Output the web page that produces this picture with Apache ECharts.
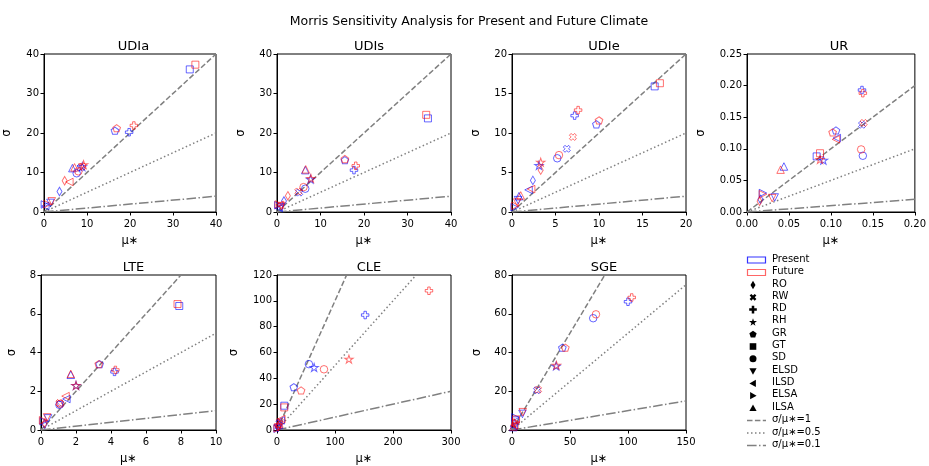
<!DOCTYPE html>
<html><head><meta charset="utf-8">
<script src="https://cdn.jsdelivr.net/npm/echarts@6/dist/echarts.min.js"></script>
<style>html,body{margin:0;padding:0;background:#fff}#c{width:929px;height:466px}</style>
</head><body><div id="c"></div>
<script>
// ---------- DATA ----------
const params = ['RO','RW','RD','RH','GR','GT','SD','ELSD','ILSD','ELSA','ILSA'];
const panelTitles = ['UDIa','UDIs','UDIe','UR','LTE','CLE','SGE'];
// each array: [mu*, sigma] per parameter, in the order of `params`
const udiaPresent = [[3.6,5.2],[8.5,11.2],[19.8,20.2],[8.9,11.5],[16.5,20.6],[33.9,36.1],[7.6,9.8],[1.5,2.3],[0.3,1.5],[0.2,1.9],[6.6,11.1]];
const udiaFuture  = [[4.8,7.9],[8.9,11.5],[20.9,21.9],[9.2,12.0],[16.9,21.2],[35.2,37.3],[8.0,10.3],[1.8,2.7],[5.9,7.6],[0.8,2.0],[7.1,11.3]];
const udisPresent = [[1.6,2.8],[5.1,4.9],[17.7,10.6],[7.7,8.3],[15.6,13.1],[34.7,23.7],[6.5,5.9],[0.9,1.2],[0.4,1.0],[0.3,1.7],[6.5,10.6]];
const udisFuture  = [[2.5,4.1],[4.9,5.2],[18.1,11.7],[7.8,8.5],[15.6,13.4],[34.3,24.6],[6.1,6.3],[1.0,1.5],[0.6,1.8],[0.4,1.9],[6.6,10.8]];
const udiePresent = [[2.4,4.0],[6.3,8.0],[7.2,12.2],[3.1,5.9],[9.7,11.1],[16.4,15.9],[5.2,6.8],[0.7,1.5],[1.9,2.8],[0.3,0.6],[0.8,2.0]];
const udieFuture  = [[3.3,5.3],[7.0,9.5],[7.6,12.9],[3.3,6.3],[10.0,11.6],[17.0,16.3],[5.4,7.2],[0.6,1.2],[2.2,2.9],[0.4,0.8],[1.0,2.1]];
const urPresent   = [[0.016,0.020],[0.137,0.138],[0.137,0.193],[0.091,0.082],[0.106,0.129],[0.083,0.088],[0.138,0.089],[0.033,0.023],[0.107,0.117],[0.019,0.030],[0.044,0.072]];
const urFuture    = [[0.015,0.017],[0.139,0.141],[0.138,0.188],[0.087,0.083],[0.102,0.126],[0.087,0.093],[0.136,0.099],[0.030,0.022],[0.106,0.115],[0.019,0.028],[0.040,0.067]];
const ltePresent  = [[0.2,0.3],[1.1,1.35],[4.2,3.0],[2.0,2.3],[3.35,3.4],[7.9,6.4],[1.05,1.3],[0.4,0.6],[1.45,1.6],[0.15,0.45],[1.7,2.85]];
const lteFuture   = [[0.2,0.35],[1.05,1.4],[4.25,3.1],[2.0,2.3],[3.3,3.4],[7.8,6.5],[1.1,1.35],[0.35,0.65],[1.4,1.75],[0.12,0.5],[1.7,2.9]];
const clePresent  = [[2.0,2.5],[4.0,5.5],[152,89],[64,48.4],[29,33.2],[12.6,18.8],[55,51],[1.5,1.5],[6.5,7.5],[1.0,1.0],[3.5,4.0]];
const cleFuture   = [[2.5,3.0],[5.0,6.5],[262,107.8],[124,54.9],[41.5,30.6],[12.5,17.5],[81,47],[2.0,2.0],[7.5,8.5],[1.2,1.3],[4.0,5.0]];
const sgePresent  = [[2.5,3.0],[21.5,20.5],[100,66.2],[38,33],[43.4,42.5],[3.0,5.0],[70,57.7],[9.0,8.3],[1.5,2.0],[3.0,6.5],[1.0,1.5]];
const sgeFuture   = [[2.0,3.5],[22.5,20.8],[103.2,68.4],[38.3,33.4],[46,42.5],[3.5,5.5],[72.4,59.7],[9.3,9.2],[2.0,2.5],[3.5,4.0],[1.2,1.8]];
const xMax  = [40,40,20,0.2,10,300,150];
const xStep = [10,10,5,0.05,2,100,50];
const yMax  = [40,40,20,0.25,8,120,80];
const yStep = [10,10,5,0.05,2,20,20];
const refRatios = [1,0.5,0.1];
const refLabels = ['σ/μ∗=1','σ/μ∗=0.5','σ/μ∗=0.1'];
const scenarioNames = ['Present','Future'];

const presentSets = [udiaPresent,udisPresent,udiePresent,urPresent,ltePresent,clePresent,sgePresent];
const futureSets  = [udiaFuture,udisFuture,udieFuture,urFuture,lteFuture,cleFuture,sgeFuture];

// ---------- STYLE / LAYOUT ----------
const FONT = 'DejaVu Sans';
const gridRects = [[41,54,175,158],[277,54,174,158],[512,54,174,158],[747,54,174,158],[41,275,175,158],[277,275,174,158],[512,275,174,158]];
const yNameGap = [31,30,30,40,23,37,29];
const scenColors = ['rgba(0,0,255,0.75)','rgba(255,0,0,0.7)'];
const refDash = [[5.5,2.4],[1.5,2.5],[9.6,2.4,1.5,2.4]];

function polyPath(pts){ return 'path://M' + pts.map(p=>p[0].toFixed(3)+','+p[1].toFixed(3)).join(' L') + ' Z'; }
function starPts(cx,cy,R){ const r=R*0.382, pts=[]; for(let k=0;k<10;k++){const a=-Math.PI/2+k*Math.PI/5; const rr=k%2?r:R; pts.push([cx+rr*Math.cos(a),cy+rr*Math.sin(a)]);} return pts; }
function pentPts(cx,cy,R){ const pts=[]; for(let k=0;k<5;k++){const a=-Math.PI/2+k*2*Math.PI/5; pts.push([cx+R*Math.cos(a),cy+R*Math.sin(a)]);} return pts; }
function xPts(cx,cy,R){ const a=R*0.5; return [[-R,-a],[-a,-R],[0,-a],[a,-R],[R,-a],[a,0],[R,a],[a,R],[0,a],[-a,R],[-R,a],[-a,0]].map(p=>[cx+p[0],cy+p[1]]); }
function plusPts(cx,cy,R){ const a=R*0.33; return [[-a,-R],[a,-R],[a,-a],[R,-a],[R,a],[a,a],[a,R],[-a,R],[-a,a],[-R,a],[-R,-a],[-a,-a]].map(p=>[cx+p[0],cy+p[1]]); }
function triPts(cx,cy,R,dir){ const base={up:[[0,-R],[R,R*0.8],[-R,R*0.8]],down:[[0,R],[R,-R*0.8],[-R,-R*0.8]],left:[[-R,0],[R*0.8,-R],[R*0.8,R]],right:[[R,0],[-R*0.8,-R],[-R*0.8,R]]}[dir]; return base.map(p=>[cx+p[0],cy+p[1]]); }
function diaPts(cx,cy,R){ return [[cx,cy-R],[cx+R*0.6,cy],[cx,cy+R],[cx-R*0.6,cy]]; }
function sqPts(cx,cy,R){ return [[cx-R,cy-R],[cx+R,cy-R],[cx+R,cy+R],[cx-R,cy+R]]; }

const markerStyles = {
  RO:{symbol:'diamond',size:[5,8.5]},
  RW:{symbol:polyPath(xPts(0,0,1)),size:7},
  RD:{symbol:polyPath(plusPts(0,0,1)),size:7.5},
  RH:{symbol:polyPath(starPts(0,0,1)),size:[8.5,8]},
  GR:{symbol:polyPath(pentPts(0,0,1)),size:[7.6,7.2]},
  GT:{symbol:'rect',size:7},
  SD:{symbol:'circle',size:7.5},
  ELSD:{symbol:polyPath(triPts(0,0,1,'down')),size:7.5},
  ILSD:{symbol:polyPath(triPts(0,0,1,'left')),size:7.5},
  ELSA:{symbol:polyPath(triPts(0,0,1,'right')),size:7.5},
  ILSA:{symbol:polyPath(triPts(0,0,1,'up')),size:7.5}
};

const grids=[], xAxes=[], yAxes=[], series=[], titles=[];
titles.push({text:'Morris Sensitivity Analysis for Present and Future Climate',left:464,top:10,textAlign:'center',
  textStyle:{fontFamily:FONT,fontSize:12.5,fontWeight:'normal',color:'#000'}});
const fmt2 = v => v.toFixed(2);
panelTitles.forEach((t,i)=>{
  const [l,tp,w,h]=gridRects[i];
  grids.push({left:l,top:tp,width:w,height:h,show:true,borderColor:'#000',borderWidth:1,backgroundColor:'#fff'});
  titles.push({text:t,left:l+w/2,top:tp-19,textAlign:'center',textStyle:{fontFamily:FONT,fontSize:13,fontWeight:'normal',color:'#000'}});
  const isUR = i===3;
  const common = {type:'value',gridIndex:i,min:0,splitLine:{show:false},
    axisLine:{show:true,onZero:false,lineStyle:{color:'#000',width:1}},
    axisTick:{show:true,length:3.5,lineStyle:{color:'#000'}}};
  xAxes.push(Object.assign({},common,{max:xMax[i],interval:xStep[i],name:'μ∗',nameLocation:'middle',nameGap:23,
    nameTextStyle:{fontFamily:FONT,fontSize:11.5,color:'#000'},
    axisLabel:{fontFamily:FONT,fontSize:10,color:'#000',margin:7,formatter:isUR?fmt2:null,showMaxLabel:true,showMinLabel:true}}));
  yAxes.push(Object.assign({},common,{max:yMax[i],interval:yStep[i],name:'σ',nameLocation:'middle',nameGap:yNameGap[i],
    nameTextStyle:{fontFamily:FONT,fontSize:11.5,color:'#000'},
    axisLabel:{fontFamily:FONT,fontSize:10,color:'#000',margin:5,formatter:isUR?fmt2:null,showMaxLabel:true,showMinLabel:true}}));
  refRatios.forEach((r,k)=>{
    series.push({type:'line',name:refLabels[k],xAxisIndex:i,yAxisIndex:i,symbol:'none',silent:true,clip:true,z:1,
      data:[[0,0],[xMax[i],r*xMax[i]]],lineStyle:{color:'#808080',width:1.5,type:refDash[k]}});
  });
  [presentSets[i],futureSets[i]].forEach((set,s)=>{
    series.push({type:'scatter',name:scenarioNames[s],xAxisIndex:i,yAxisIndex:i,z:3,silent:true,
      data:set.map((p,j)=>{const m=markerStyles[params[j]];return {value:p,name:params[j],symbol:m.symbol,symbolSize:m.size,
        itemStyle:{color:'rgba(0,0,0,0)',borderColor:scenColors[s],borderWidth:1}};})});
  });
});

// ---------- legend (graphic) ----------
const legRows=[260,272.5,285,297.3,309.6,321.9,334.2,346.5,358.8,371.1,383.4,395.7,408,420.5,433,445.5];
const gx=753, tx=772, gfx=[];
function legText(label,y){gfx.push({type:'text',left:tx,top:y-6,style:{text:label,font:'10px "DejaVu Sans"',fill:'#000'}});}
scenarioNames.forEach((n,s)=>{
  const y=legRows[s];
  gfx.push({type:'rect',shape:{x:747.5,y:y-3,width:18,height:6},style:{fill:'none',stroke:s?'#ff6666':'#3333ff',lineWidth:1.2}});
  legText(n,y);
});
params.forEach((p,j)=>{
  const y=legRows[2+j], R=3.6; let el;
  if(p==='SD') el={type:'circle',shape:{cx:gx,cy:y,r:3.5}};
  else { const pts={RO:diaPts(gx,y,4.2),RW:xPts(gx,y,3.4),RD:plusPts(gx,y,3.8),RH:starPts(gx,y+0.5,4.2),GR:pentPts(gx,y+0.3,3.8),
    GT:sqPts(gx,y,3.3),ELSD:triPts(gx,y,R,'down'),ILSD:triPts(gx,y,R,'left'),ELSA:triPts(gx,y,R,'right'),ILSA:triPts(gx,y,R,'up')}[p];
    el={type:'polygon',shape:{points:pts}}; }
  el.style={fill:'#000'}; gfx.push(el); legText(p,y);
});
refLabels.forEach((lab,k)=>{
  const y=legRows[13+k];
  gfx.push({type:'line',shape:{x1:747,y1:y,x2:766,y2:y},style:{stroke:'#808080',lineWidth:1.5,lineDash:refDash[k]}});
  legText(lab,y);
});

const chart = echarts.init(document.getElementById('c'),null,{renderer:'canvas'});
chart.setOption({animation:false,backgroundColor:'#fff',title:titles,grid:grids,xAxis:xAxes,yAxis:yAxes,series:series,graphic:gfx});
</script></body></html>
